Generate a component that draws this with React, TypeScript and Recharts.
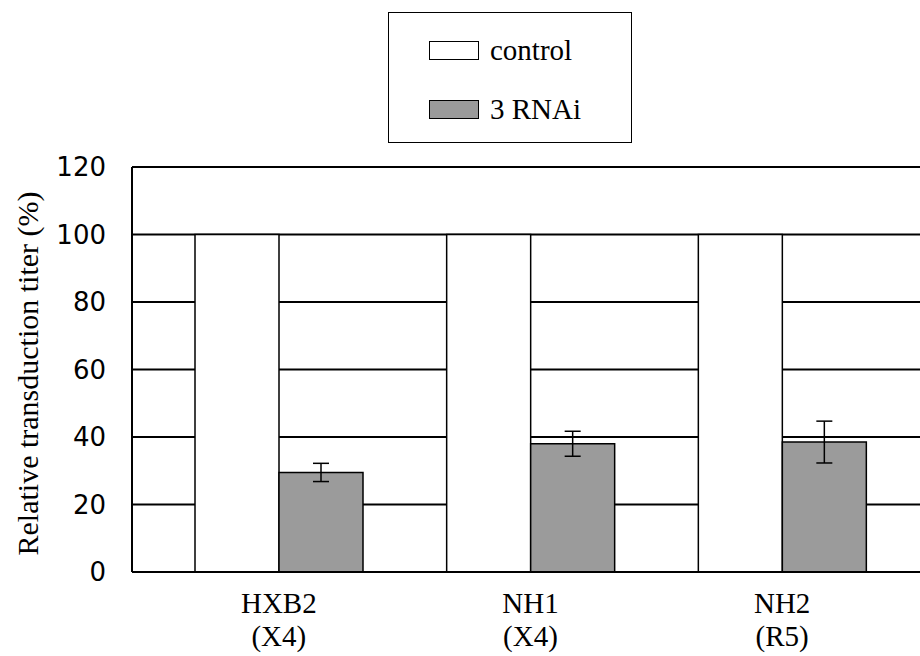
import { BarChart, Bar, XAxis, YAxis, CartesianGrid, ErrorBar, Label } from 'recharts';

const STRAINS = ['HXB2', 'NH1', 'NH2'];
const TROPISM = ['(X4)', '(X4)', '(R5)'];
const CONTROL = [100, 100, 100];
const RNAI = [29.5, 38, 38.5];
const RNAI_ERR = [2.7, 3.7, 6.2];
const Y_TICKS = [0, 20, 40, 60, 80, 100, 120];

const SERIF = "'Liberation Serif', 'Times New Roman', serif";
const SANS = "'DejaVu Sans', Verdana, sans-serif";
const GRAY = '#9b9b9b';

const chartData = STRAINS.map((name, i) => ({
  name,
  tropism: TROPISM[i],
  control: CONTROL[i],
  rnai: RNAI[i],
  rnaiErr: RNAI_ERR[i],
}));

function StrainTick({ x, y, payload, index }: any) {
  return (
    <text x={x} y={y} textAnchor="middle" style={{ fontFamily: SERIF, fontSize: 29 }} fill="#000">
      <tspan x={x} dy={41}>{payload.value}</tspan>
      <tspan x={x} dy={33}>{TROPISM[index]}</tspan>
    </text>
  );
}

function YTitle({ viewBox }: any) {
  const cx = viewBox.x + 27;
  const cy = viewBox.y + viewBox.height / 2 + 4;
  return (
    <text
      x={cx}
      y={cy}
      transform={`rotate(-90 ${cx} ${cy})`}
      textAnchor="middle"
      dominantBaseline="central"
      style={{ fontFamily: SERIF, fontSize: 30 }}
      fill="#000"
    >
      Relative transduction titer (%)
    </text>
  );
}

function Swatch({ fill, top, label }: { fill: string; top: number; label: string }) {
  return (
    <div style={{ position: 'absolute', left: 40, top, display: 'flex', alignItems: 'center', height: 20 }}>
      <div style={{ width: 50, height: 19, boxSizing: 'border-box', border: '1.5px solid #000', background: fill }} />
      <span style={{ marginLeft: 11, fontFamily: SERIF, fontSize: 29, lineHeight: '20px', color: '#000' }}>{label}</span>
    </div>
  );
}

export default function App() {
  return (
    <div style={{ position: 'absolute', left: 0, top: 0, width: 920, height: 656, overflow: 'hidden', background: '#fff' }}>
      <div
        style={{
          position: 'absolute',
          left: 388,
          top: 12,
          width: 244,
          height: 131,
          boxSizing: 'border-box',
          border: '1.5px solid #000',
          background: '#fff',
        }}
      >
        <Swatch fill="#fff" top={27} label="control" />
        <Swatch fill={GRAY} top={86} label="3 RNAi" />
      </div>
      <BarChart
        width={929}
        height={656}
        data={chartData}
        margin={{ top: 167, right: 0, bottom: 0, left: 0 }}
        barCategoryGap={42}
        barGap={0}
      >
        <CartesianGrid vertical={false} stroke="#000" strokeWidth={2} />
        <XAxis
          dataKey="name"
          height={84}
          padding={{ left: 21, right: 21 }}
          tickLine={false}
          tickSize={0}
          tickMargin={0}
          axisLine={{ stroke: '#000', strokeWidth: 2 }}
          tick={<StrainTick />}
          interval={0}
        />
        <YAxis
          width={132}
          domain={[0, 120]}
          ticks={Y_TICKS}
          interval={0}
          tickLine={false}
          tickSize={0}
          tickMargin={26}
          axisLine={{ stroke: '#000', strokeWidth: 2 }}
          tick={{ fill: '#000', fontFamily: SANS, fontSize: 26 }}
        >
          <Label content={<YTitle />} />
        </YAxis>
        <Bar dataKey="control" fill="#fff" stroke="#000" strokeWidth={1.5} isAnimationActive={false} />
        <Bar dataKey="rnai" fill={GRAY} stroke="#000" strokeWidth={1.5} isAnimationActive={false}>
          <ErrorBar dataKey="rnaiErr" width={8} stroke="#000" strokeWidth={1.5} />
        </Bar>
      </BarChart>
    </div>
  );
}
